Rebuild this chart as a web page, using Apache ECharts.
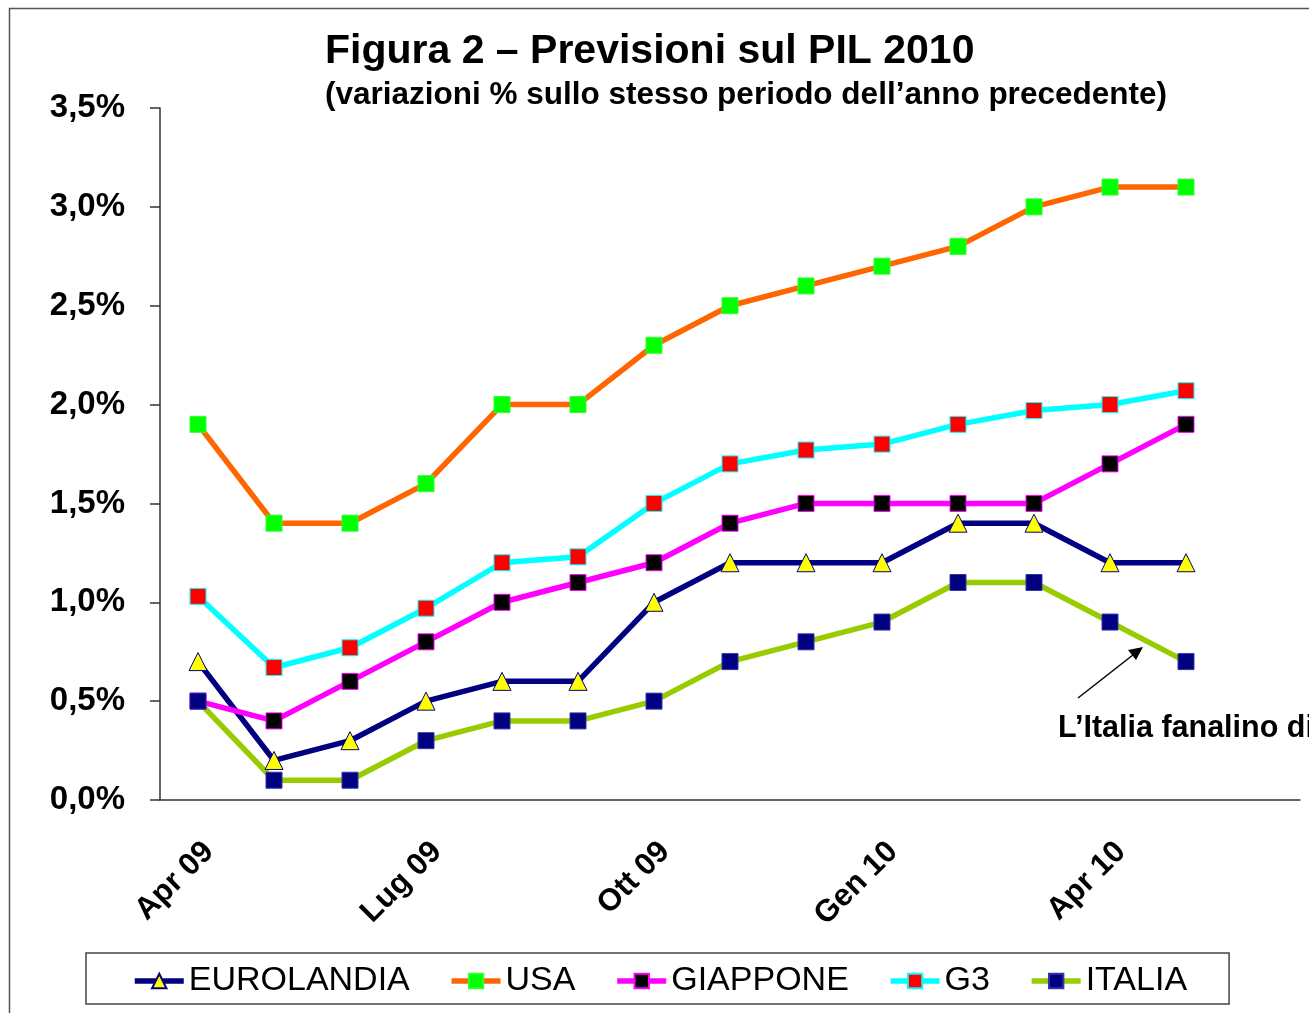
<!DOCTYPE html>
<html lang="it">
<head>
  <meta charset="UTF-8">
  <title>Figura 2 – Previsioni sul PIL 2010</title>
  <script src="https://cdn.jsdelivr.net/npm/echarts@6/dist/echarts.min.js"></script>
  <style>
    html, body { margin: 0; padding: 0; background: #fff; }
    #chart { width: 1309px; height: 1013px; }
  </style>
</head>
<body>
<div id="chart"></div>
<script>
  // mesi (15 categorie, l'ultima senza dati)
  var mesi = ['Apr 09', 'Mag 09', 'Giu 09', 'Lug 09', 'Ago 09', 'Set 09', 'Ott 09',
              'Nov 09', 'Dic 09', 'Gen 10', 'Feb 10', 'Mar 10', 'Apr 10', 'Mag 10', 'Giu 10'];

  // previsioni PIL 2010 (%)
  var eurolandia = [0.7, 0.2, 0.3, 0.5, 0.6, 0.6, 1.0, 1.2, 1.2, 1.2, 1.4, 1.4, 1.2, 1.2];
  var usa        = [1.9, 1.4, 1.4, 1.6, 2.0, 2.0, 2.3, 2.5, 2.6, 2.7, 2.8, 3.0, 3.1, 3.1];
  var giappone   = [0.5, 0.4, 0.6, 0.8, 1.0, 1.1, 1.2, 1.4, 1.5, 1.5, 1.5, 1.5, 1.7, 1.9];
  var g3         = [1.03, 0.67, 0.77, 0.97, 1.2, 1.23, 1.5, 1.7, 1.77, 1.8, 1.9, 1.97, 2.0, 2.07];
  var italia     = [0.5, 0.1, 0.1, 0.3, 0.4, 0.4, 0.5, 0.7, 0.8, 0.9, 1.1, 1.1, 0.9, 0.7];

  var FONT = '"Liberation Sans", Arial, sans-serif';

  function serie(nome, dati, lineColor, symbol, fill, border, size) {
    return {
      name: nome,
      type: 'line',
      data: dati,
      symbol: symbol,
      symbolSize: size,
      showAllSymbol: true,
      lineStyle: { color: lineColor, width: 5.5 },
      itemStyle: { color: fill, borderColor: border, borderWidth: 1 },
      emphasis: { disabled: true }
    };
  }

  var chart = echarts.init(document.getElementById('chart'));

  var option = {
    backgroundColor: '#fff',
    animation: false,
    textStyle: { fontFamily: FONT },
    title: [
      {
        text: 'Figura 2 – Previsioni sul PIL 2010',
        left: 325, top: 31, padding: 0,
        textStyle: { fontSize: 41, fontWeight: 'bold', color: '#000', fontFamily: FONT }
      },
      {
        text: '(variazioni % sullo stesso periodo dell’anno precedente)',
        left: 325, top: 79, padding: 0,
        textStyle: { fontSize: 31.5, fontWeight: 'bold', color: '#000', fontFamily: FONT }
      }
    ],
    legend: {
      left: 86, top: 953,
      padding: [11, 42, 6, 46],
      borderColor: '#444', borderWidth: 1.5,
      itemWidth: 49, itemHeight: 18, itemGap: 39,
      lineStyle: { width: 5.5 },
      textStyle: { fontSize: 34, color: '#000', fontFamily: FONT },
      data: ['EUROLANDIA', 'USA', 'GIAPPONE', 'G3', 'ITALIA']
    },
    grid: { left: 160, right: 9, top: 108, bottom: 213 },
    xAxis: {
      type: 'category',
      data: mesi,
      boundaryGap: true,
      axisLine: { lineStyle: { color: '#333', width: 1.5 } },
      axisTick: { interval: 2, length: 10, lineStyle: { color: '#333', width: 1.5 } },
      axisLabel: {
        interval: 2, rotate: 45, margin: 36,
        verticalAlign: 'top', lineHeight: 31,
        fontSize: 31, fontWeight: 'bold', color: '#000', fontFamily: FONT,
        formatter: function (v, i) { return i === 15 ? '' : v; }
      },
      splitLine: { show: false }
    },
    yAxis: {
      type: 'value',
      min: 0, max: 3.5, interval: 0.5,
      axisLine: { show: true, lineStyle: { color: '#333', width: 1.5 } },
      axisTick: { show: true, length: 10, lineStyle: { color: '#333', width: 1.5 } },
      axisLabel: {
        margin: 35, fontSize: 33, fontWeight: 'bold', color: '#000', fontFamily: FONT,
        formatter: function (v) { return v.toFixed(1).replace('.', ',') + '%'; }
      },
      splitLine: { show: false }
    },
    series: [
      serie('EUROLANDIA', eurolandia, '#000080', 'triangle', '#FFFF00', '#000080', 18),
      serie('USA', usa, '#FF6600', 'rect', '#00FF00', '#33ff33', 16),
      serie('GIAPPONE', giappone, '#FF00FF', 'rect', '#000000', '#FF00FF', 16),
      serie('G3', g3, '#00FFFF', 'rect', '#FF0000', '#00FFFF', 16),
      serie('ITALIA', italia, '#99CC00', 'rect', '#000080', '#3333aa', 16)
    ],
    graphic: [
      // cornice
      {
        type: 'rect', silent: true, z: -1,
        shape: { x: 9.5, y: 8.5, width: 1400, height: 1100 },
        style: { fill: 'none', stroke: '#555', lineWidth: 1.5 }
      },
      // nota con freccia
      {
        type: 'text', left: 1058, top: 713,
        style: { text: 'L’Italia fanalino di coda', font: 'bold 30.5px "Liberation Sans", Arial, sans-serif', fill: '#000' }
      },
      {
        type: 'line',
        shape: { x1: 1078, y1: 698, x2: 1138, y2: 651 },
        style: { stroke: '#000', lineWidth: 1.5 }
      },
      {
        type: 'polygon',
        shape: { points: [[1143, 647], [1128, 650], [1136, 660]] },
        style: { fill: '#000' }
      }
    ]
  };

  chart.setOption(option);
</script>
</body>
</html>
